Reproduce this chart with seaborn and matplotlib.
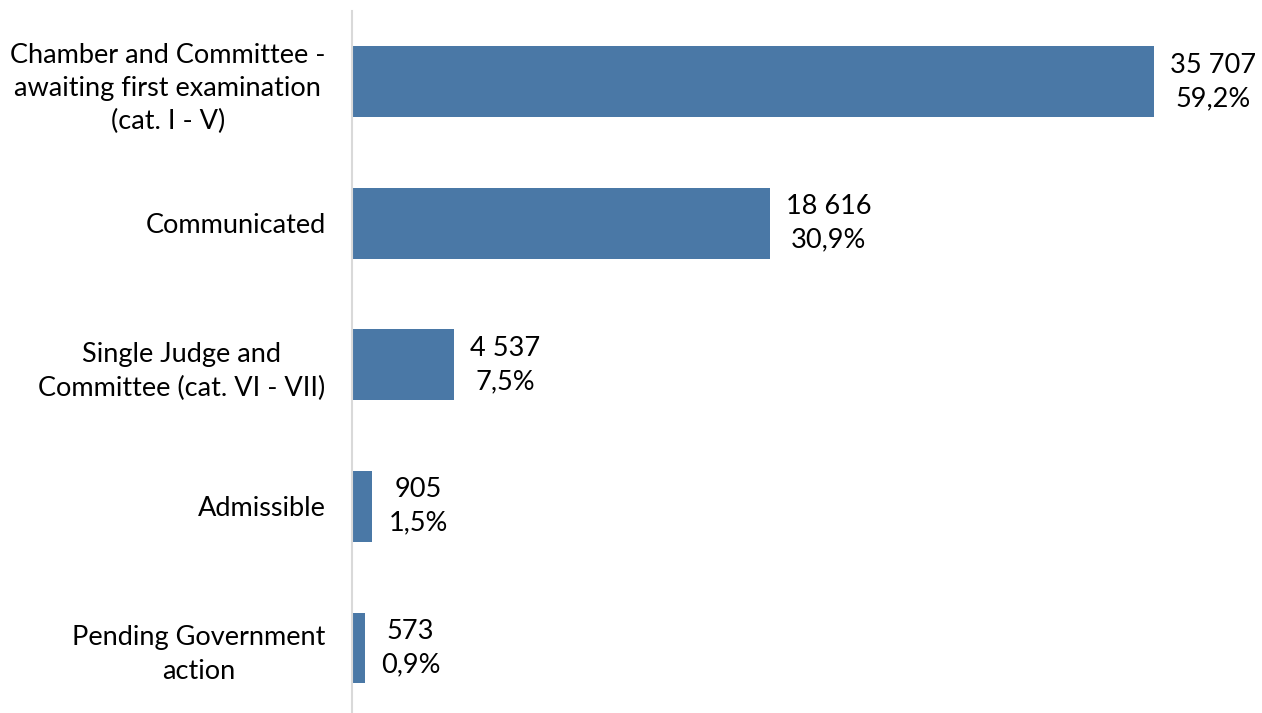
import matplotlib
matplotlib.use('Agg')
import matplotlib.pyplot as plt
import seaborn as sns
import pandas as pd

# Data
categories = ['Chamber and Committee -\nawaiting first examination\n(cat. I - V)',
              'Communicated',
              'Single Judge and\nCommittee (cat. VI - VII)',
              'Admissible',
              'Pending Government\naction']
counts = [35707, 18616, 4537, 905, 573]
count_labels = ['35 707', '18 616', '4 537', '905', '573']
pct_labels = ['59,2%', '30,9%', '7,5%', '1,5%', '0,9%']

df = pd.DataFrame({'category': categories, 'count': counts})

sns.set_style('white')
plt.rcParams['font.family'] = ['Lato', 'DejaVu Sans']

fig = plt.figure(figsize=(12.62, 7.13), dpi=100)
ax = fig.add_axes([352 / 1262, 0, (1262 - 352) / 1262, 702 / 713])

sns.barplot(data=df, x='count', y='category', color='#4A78A6', width=0.5,
            saturation=1, orient='h', linewidth=0, ax=ax)

ax.set_xlim(0, 910 / 802 * 35707)
ax.set_ylim(4.46, -0.5)

for i, (c, cl, pl) in enumerate(zip(counts, count_labels, pct_labels)):
    ax.annotate(f'{cl}\n{pl}', xy=(c, i), xytext=(16, 0), textcoords='offset pixels',
                ha='left', va='center', multialignment='center',
                fontsize=19.5, color='black', linespacing=1.42)

ax.set_xlabel('')
ax.set_ylabel('')
ax.set_xticks([])
ax.tick_params(axis='y', length=0, pad=19, labelsize=19.5, labelcolor='black')
for lbl in ax.get_yticklabels():
    lbl.set_multialignment('center')
    lbl.set_linespacing(1.42)

for s in ['top', 'right', 'bottom']:
    ax.spines[s].set_visible(False)
ax.spines['left'].set_color('#D9D9D9')
ax.spines['left'].set_linewidth(1.5)

fig.savefig('out.png', dpi=100, facecolor='white')
